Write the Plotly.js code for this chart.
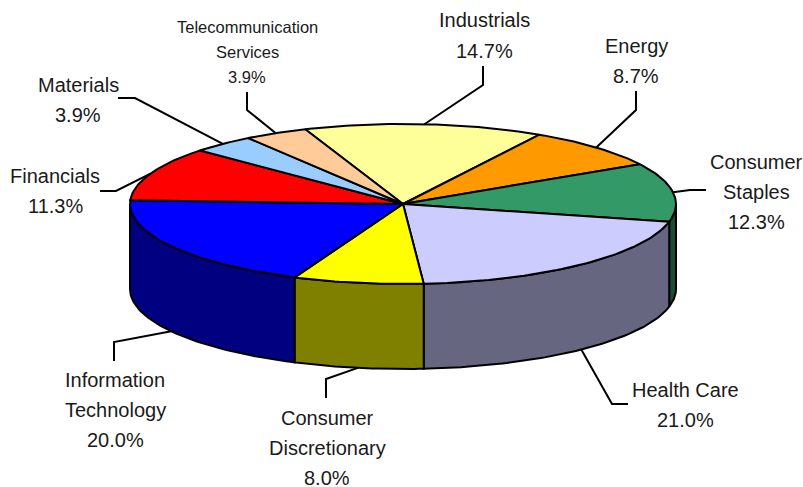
<!DOCTYPE html>
<html><head><meta charset="utf-8">
<script src="https://cdn.plot.ly/plotly-3.0.1.min.js"></script>
<style>html,body{margin:0;padding:0;background:#fff}#c{width:803px;height:487px}</style>
</head><body><div id="c"></div>
<script>
// Data, clockwise from the top of the pie
const sectors = ["Industrials","Energy","Consumer Staples","Health Care","Consumer Discretionary","Information Technology","Financials","Materials","Telecommunication Services"];
const values = [14.7,8.7,12.3,21.0,8.0,20.0,11.3,3.9,3.9];
const topColors = ["#FFFF99","#FF9900","#339966","#CCCCFF","#FFFF00","#0000FF","#FF0000","#99CCFF","#FFCC99"];
const sideColors = ["#808050","#805000","#1A4D33","#666680","#808000","#000080","#800000","#506680","#806850"];
const labelLines = [["Industrials","14.7%"],["Energy","8.7%"],["Consumer","Staples","12.3%"],["Health Care","21.0%"],["Consumer","Discretionary","8.0%"],["Information","Technology","20.0%"],["Financials","11.3%"],["Materials","3.9%"],["Telecommunication","Services","3.9%"]];

// Layout of the drawing (page pixel space, used as axis units)
const cx=403, cy=204, rx=273, ry=80, depth=85, startDeg=111;
const labelX=[484,636,756,685,327,115,55,78,247];
const labelY=[[20,51],[46,76],[162,192,222],[390,420],[418,448,478],[380,410,440],[176,206],[85,115],[27,52,77]];
const elbowX=[[483,483],[636,636],[690,706],[612,628],[326,326],[114,114],[116,100],[135,118],[247,247]];
const elbowY=[[85,66],[110,91],[190,190],[404,404],[379,398],[342,361],[191,191],[98,98],[110,92]];
const onWall=[false,false,false,true,true,true,false,false,false];

const rad=d=>d*Math.PI/180;
const px=t=>cx+rx*Math.cos(rad(t));
const py=(t,dz=0)=>cy-ry*Math.sin(rad(t))+dz;
const total=values.reduce((a,b)=>a+b,0);
const traces=[], tops=[], leaders=[], annotations=[];
let a=startDeg;
values.forEach((v,i)=>{
  const sweep=v/total*360, a0=a, a1=a-sweep; a=a1;
  const n=Math.ceil(sweep);
  // top face
  const tx=[cx], ty=[cy];
  for(let k=0;k<=n;k++){const t=a0-sweep*k/n; tx.push(px(t)); ty.push(py(t));}
  tx.push(cx); ty.push(cy);
  tops.push({type:"scatter",mode:"lines",name:sectors[i],x:tx,y:ty,fill:"toself",fillcolor:topColors[i],line:{color:"#000",width:2},hoverinfo:"name",showlegend:false});
  // visible side wall (front half of the rim only)
  const w0=Math.min(a0,0), w1=Math.max(a1,-180);
  if(w0>w1){
    const m=Math.ceil(w0-w1), wx=[], wy=[];
    for(let k=0;k<=m;k++){const t=w0-(w0-w1)*k/m; wx.push(px(t)); wy.push(py(t));}
    for(let k=m;k>=0;k--){const t=w0-(w0-w1)*k/m; wx.push(px(t)); wy.push(py(t,depth));}
    wx.push(wx[0]); wy.push(wy[0]);
    traces.push({type:"scatter",mode:"lines",name:sectors[i]+" side",x:wx,y:wy,fill:"toself",fillcolor:sideColors[i],line:{color:"#000",width:2},hoverinfo:"skip",showlegend:false});
  }
  // leader line from the rim at the middle of the sector
  const mid=(a0+a1)/2;
  leaders.push({type:"scatter",mode:"lines",x:[px(mid),...elbowX[i]],y:[py(mid,onWall[i]?depth:0),...elbowY[i]],line:{color:"#000",width:2},hoverinfo:"skip",showlegend:false});
  // label text
  labelLines[i].forEach((s,j)=>{
    annotations.push({x:labelX[i],y:labelY[i][j],xref:"x",yref:"y",text:s,showarrow:false,xanchor:"center",yanchor:"middle",
      font:{family:"Liberation Sans, Arial, sans-serif",size:i===8?16.5:20,color:"#1a1a1a"}});
  });
});
Plotly.newPlot("c",[...leaders,...traces,...tops],{
  width:803,height:487,margin:{l:0,r:0,t:0,b:0},paper_bgcolor:"#fff",plot_bgcolor:"#fff",showlegend:false,
  xaxis:{range:[0,803],visible:false,fixedrange:true},
  yaxis:{range:[487,0],visible:false,fixedrange:true},
  annotations
},{displayModeBar:false,staticPlot:true});
</script></body></html>
